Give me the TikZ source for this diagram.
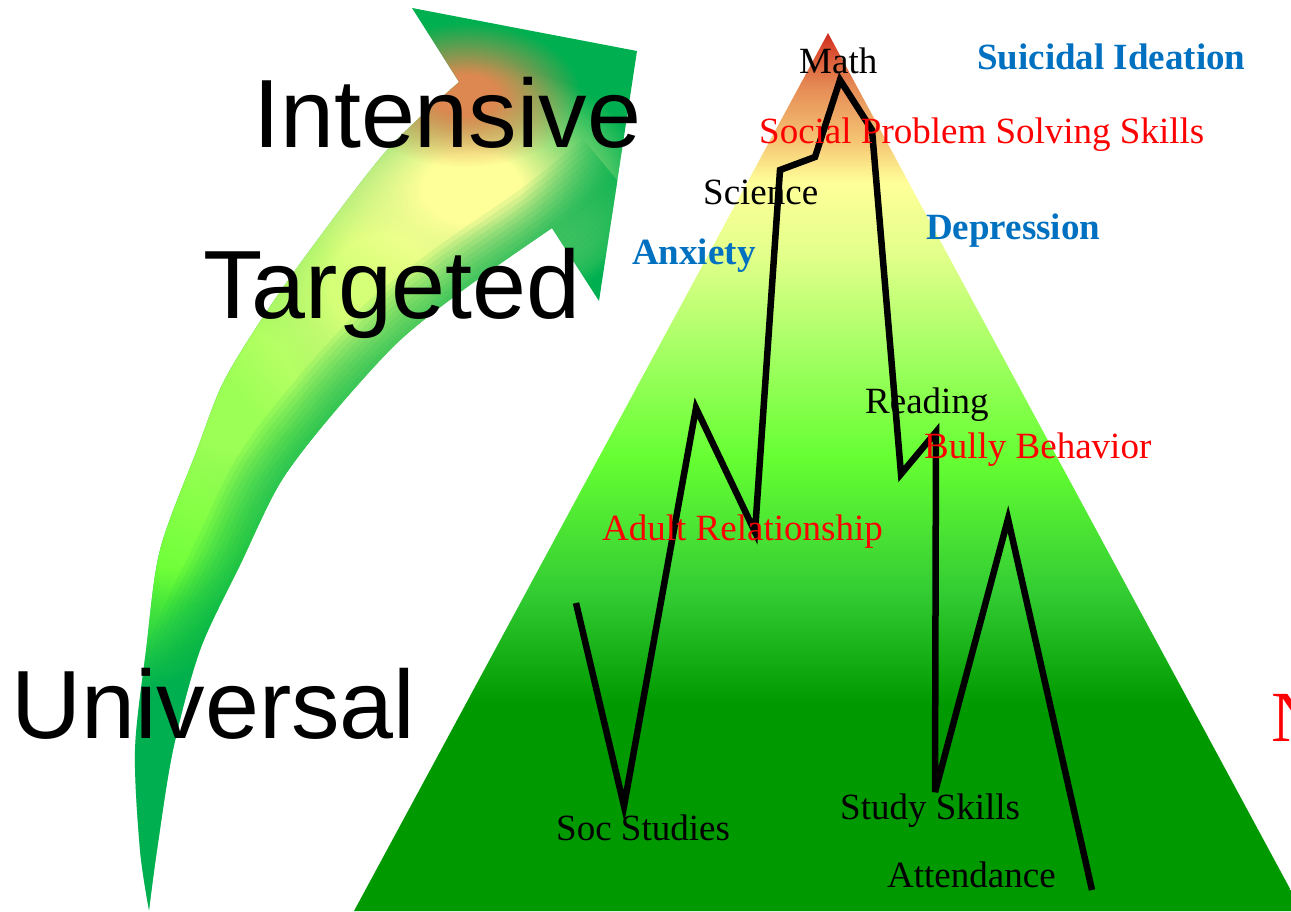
\documentclass[tikz,border=0pt]{standalone}
\usepackage{fontspec}
\setmainfont{Liberation Serif}
\newfontfamily\tiersans{Liberation Sans}
\usetikzlibrary{fadings}

% pyramid colours, bottom to apex
\definecolor{pyrA}{HTML}{009900}
\definecolor{pyrB}{HTML}{33CC33}
\definecolor{pyrC}{HTML}{66FF33}
\definecolor{pyrD}{HTML}{A8FF66}
\definecolor{pyrE}{HTML}{E2FF8A}
\definecolor{pyrF}{HTML}{FFFF99}
\definecolor{pyrG}{HTML}{F6C674}
\definecolor{pyrH}{HTML}{E58A55}
\definecolor{pyrI}{HTML}{D8452C}
\definecolor{pyrJ}{HTML}{CC2A1E}

% arrow colours
\definecolor{arrowbase}{HTML}{00B050}
\definecolor{arrowlight}{HTML}{9CFF55}
\definecolor{arrowmid}{HTML}{66FF33}
\definecolor{arrowpale}{HTML}{D4FF77}
\definecolor{arrowyellow}{HTML}{FFFF99}
\definecolor{arroworange}{HTML}{DC8850}

% label colours
\definecolor{supportred}{HTML}{FF0000}
\definecolor{concernblue}{HTML}{0070C0}

% the path's bounding box covers 25bp..75bp of the shading
\pgfdeclareverticalshading{pyramidshade}{100bp}{color(0bp)=(pyrA); color(36.8bp)=(pyrA); color(43.15bp)=(pyrB); color(50.85bp)=(pyrC); color(57.25bp)=(pyrD); color(62.35bp)=(pyrE); color(66.5bp)=(pyrF); color(68.8bp)=(pyrG); color(72bp)=(pyrH); color(74.3bp)=(pyrI); color(75bp)=(pyrJ); color(100bp)=(pyrJ)}

% soft round spot: opaque core, fading out at the rim of the filled shape
\pgfdeclareradialshading{blobmask}{\pgfpointorigin}{color(0bp)=(white); color(7bp)=(white); color(16bp)=(gray); color(25bp)=(black); color(50bp)=(black)}
\pgfdeclarefading{softblob}{\pgfuseshading{blobmask}}

% inner (concave) edge of the shaft, continued into the head, for the darker band
\newcommand\tierarrowinner{plot[smooth] coordinates {(615,178) (552,228) (463,290) (397,343) (330,417) (280,483) (240,565) (200,650) (173,750) (157,850) (149,910)}}

% outline of the curved tier arrow
\newcommand\tierarrowoutline{(459,82) -- (412,8) -- (637,51) -- (599,301) -- (552,228)
  -- plot[smooth] coordinates {(552,228) (463,290) (397,343) (330,417) (280,483) (240,565) (200,650) (173,750) (157,850) (149,910)}
  -- plot[smooth] coordinates {(149,910) (140,850) (135,750) (146,650) (160,550) (197,450) (223,383) (263,317) (310,250) (387,150) (459,82)}
  -- cycle}

\begin{document}
\begin{tikzpicture}[x=1pt,y=-1pt,
  tierlabel/.style={font=\tiersans\fontsize{97}{97}\selectfont, anchor=base west, inner sep=0pt, text=black},
  subject/.style={font=\fontsize{37}{37}\selectfont, anchor=base west, inner sep=0pt, text=black},
  support/.style={subject, text=supportred},
  concern/.style={subject, font=\bfseries\fontsize{37}{37}\selectfont, text=concernblue},
  zigzag/.style={line width=6.5pt, draw=black, miter limit=6},
  spot/.style={path fading=softblob},
  edgeband/.style={draw=arrowbase, line cap=butt, opacity=0.09}]

\useasboundingbox (0,0) rectangle (1291,911);
\clip (0,0) rectangle (1291,911);

% curved arrow with its blended fill
\begin{scope}
  \clip \tierarrowoutline;
  \fill[arrowbase] (100,0) rectangle (700,911);
  \fill[arrowmid, spot] (165,520) circle [radius=170];
  \fill[arrowlight, spot] (235,390) circle [radius=220];
  \fill[arrowpale, spot] (380,285) circle [radius=180];
  \fill[arrowyellow, spot] (472,188) ellipse [x radius=175, y radius=125];
  \fill[arroworange, spot] (466,95) ellipse [x radius=115, y radius=72];
  % darker band along the inner edge of the shaft, built up in thin layers
  \foreach \bandwidth in {100,90,80,70,60,50,40,30,20,10}
    \draw[edgeband, line width=\bandwidth pt] \tierarrowinner;
\end{scope}

% pyramid
\shade[shading=pyramidshade] (828,33) -- (1302,911) -- (354,911) -- cycle;

% performance line across the pyramid
\coordinate (z1) at (576,603);
\coordinate (z2) at (624,806);
\coordinate (z3) at (696,408);
\coordinate (z4) at (755,532);
\coordinate (z5) at (780,170);
\coordinate (z6) at (815,157);
\coordinate (z7) at (840,80);
\coordinate (z8) at (872,130);
\coordinate (z9) at (901,474);
\coordinate (z10) at (936,432);
\coordinate (z11) at (935,792);
\coordinate (z12) at (1008,519);
\coordinate (z13) at (1092,890);
\draw[zigzag] (z1) -- (z2) -- (z3) -- (z4) -- (z5) -- (z6) -- (z7) -- (z8) -- (z9) -- (z10) -- (z11) -- (z12) -- (z13);

% tier names
\node[tierlabel] (intensive) at (253,147) {Intensive};
\node[tierlabel] (targeted) at (203,318) {Targeted};
\node[tierlabel] (universal) at (11,738) {Universal};

% academic areas
\node[subject] (math) at (799,73) {Math};
\node[subject] (science) at (703,204) {Science};
\node[subject] (reading) at (865,413) {Reading};
\node[subject] (studyskills) at (840,819) {Study Skills};
\node[subject] (socstudies) at (556,840) {Soc Studies};
\node[subject] (attendance) at (887,887) {Attendance};

% supports
\node[support] (socialps) at (759,143) {Social Problem Solving Skills};
\node[support] (bully) at (924,458) {Bully Behavior};
\node[support] (adultrel) at (602,540) {Adult Relationship};

% concerns
\node[concern] (suicidal) at (977,69) {Suicidal Ideation};
\node[concern] (depression) at (926,239) {Depression};
\node[concern] (anxiety) at (632,264) {Anxiety};

% red heading at the right edge
\node[anchor=base west, inner sep=0pt, text=supportred, font=\fontsize{72}{72}\selectfont] (rightword) at (1271,741) {N};
\end{tikzpicture}
\end{document}
